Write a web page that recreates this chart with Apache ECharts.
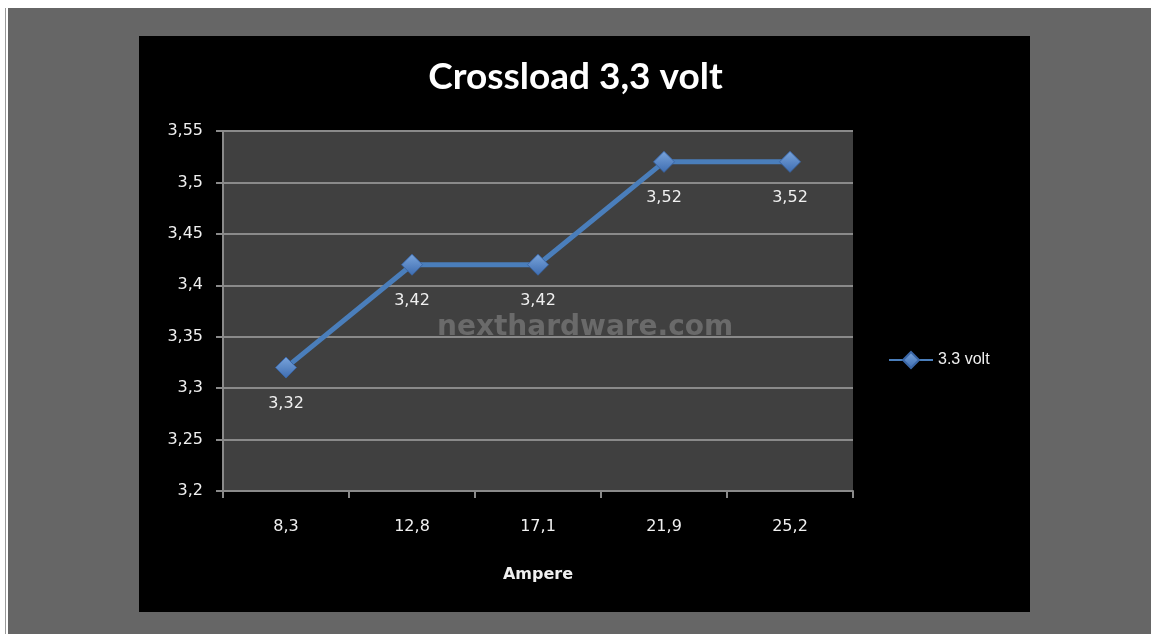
<!DOCTYPE html>
<html>
<head>
<meta charset="utf-8">
<title>Crossload 3,3 volt</title>
<script src="https://cdn.jsdelivr.net/npm/echarts@6/dist/echarts.min.js"></script>
<style>
  html, body { margin: 0; padding: 0; background: #666666; }
  #box { width: 1151px; height: 634px; }
</style>
</head>
<body>
<div id="box"></div>
<script>
// data
var ampere = ['8,3', '12,8', '17,1', '21,9', '25,2'];
var volt33 = [3.32, 3.42, 3.42, 3.52, 3.52];
var seriesName = '3.3 volt';

function comma(v) {
  return parseFloat(Number(v).toFixed(2)).toString().replace('.', ',');
}

var myChart = echarts.init(document.getElementById('box'));
var option = {
  backgroundColor: '#666666',
  animation: false,
  textStyle: { fontFamily: 'DejaVu Sans' },
  title: {
    text: 'Crossload 3,3 volt',
    left: 'center',
    top: 54,
    textStyle: { color: '#ffffff', fontSize: 37, fontWeight: 'bold', fontFamily: 'Lato' }
  },
  graphic: [
    // white page strip on top and left
    { type: 'rect', z: -10, shape: { x: 0, y: 0, width: 1151, height: 8 }, style: { fill: '#ffffff' } },
    { type: 'rect', z: -10, shape: { x: 0, y: 0, width: 5, height: 634 }, style: { fill: '#ffffff' } },
    { type: 'rect', z: -10, shape: { x: 5, y: 8, width: 1, height: 626 }, style: { fill: '#9a9a9a' } },
    { type: 'rect', z: -10, shape: { x: 6, y: 8, width: 2, height: 626 }, style: { fill: '#ffffff' } },
    // black chart area
    { type: 'rect', z: -10, shape: { x: 139, y: 36, width: 891, height: 576 }, style: { fill: '#000000' } },
    // watermark
    {
      type: 'text', z: 1, left: 437, top: 314,
      style: { text: 'nexthardware.com', fill: '#6a6a6a', font: 'bold 28px "DejaVu Sans"' }
    }
  ],
  legend: {
    data: [seriesName],
    left: 888,
    top: 351,
    padding: 0,
    itemWidth: 44,
    itemHeight: 20,
    textStyle: { color: '#f0f0f0', fontSize: 16, fontFamily: 'Liberation Sans' }
  },
  grid: {
    left: 223, top: 131, right: 298, bottom: 143,
    show: true, backgroundColor: '#404040', borderWidth: 0
  },
  xAxis: {
    type: 'category',
    data: ampere,
    boundaryGap: true,
    name: 'Ampere',
    nameLocation: 'middle',
    nameGap: 76,
    nameTextStyle: { color: '#f0f0f0', fontSize: 16, fontWeight: 'bold' },
    axisLine: { lineStyle: { color: '#8a8a8a', width: 2 } },
    axisTick: { show: true, length: 7, lineStyle: { color: '#8a8a8a', width: 2 } },
    axisLabel: { color: '#f0f0f0', fontSize: 16, margin: 28 }
  },
  yAxis: {
    type: 'value',
    min: 3.2,
    max: 3.55,
    interval: 0.05,
    axisLine: { show: true, lineStyle: { color: '#8a8a8a', width: 2 } },
    axisTick: { show: true, length: 7, lineStyle: { color: '#8a8a8a', width: 2 } },
    splitLine: { show: true, lineStyle: { color: '#8a8a8a', width: 2 } },
    axisLabel: { color: '#f0f0f0', fontSize: 16, margin: 20, formatter: comma }
  },
  series: [{
    name: seriesName,
    type: 'line',
    data: volt33,
    symbol: 'diamond',
    symbolSize: 21,
    lineStyle: { color: '#4a7ebb', width: 5 },
    itemStyle: {
      color: new echarts.graphic.LinearGradient(0, 0, 0, 1, [
        { offset: 0, color: '#7aa5dc' },
        { offset: 1, color: '#3d6cb0' }
      ]),
      borderColor: '#3a66a6',
      borderWidth: 1
    },
    label: {
      show: true,
      position: 'bottom',
      distance: 17,
      color: '#f0f0f0',
      fontSize: 16,
      formatter: function (p) { return comma(p.value); }
    }
  }]
};
myChart.setOption(option, true);
</script>
</body>
</html>
